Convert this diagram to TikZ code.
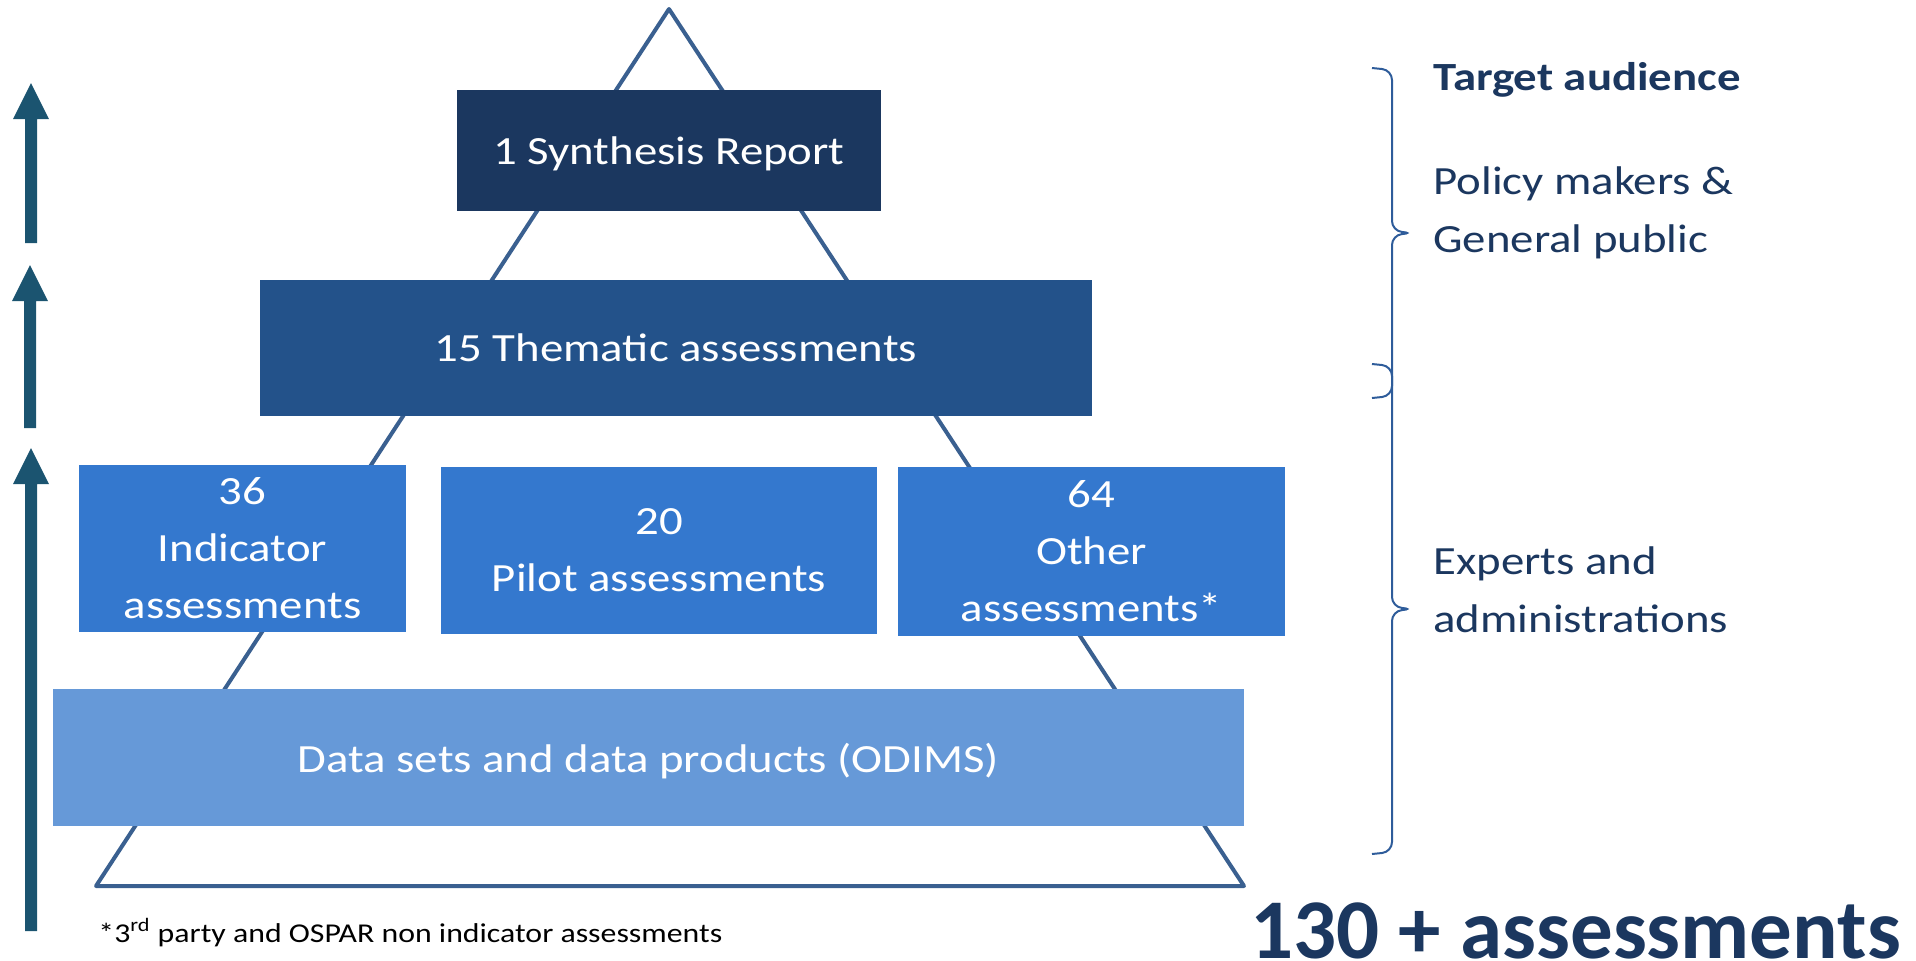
\documentclass[tikz,border=0pt]{standalone}
\usepackage{fontspec}
\setmainfont{Carlito}[FakeStretch=1.17]
\newfontfamily\plainfont{Carlito}
\definecolor{synth}{HTML}{1B375F}
\definecolor{thema}{HTML}{23528A}
\definecolor{assess}{HTML}{3478CE}
\definecolor{dataset}{HTML}{6699D8}
\definecolor{pyramid}{HTML}{3A6090}
\definecolor{arrowteal}{HTML}{1B5470}
\definecolor{bracecol}{HTML}{2E5C9A}
\def\levelarrow(#1:#2:#3){\fill[arrowteal] (#1-6,#3) -- (#1-6,#2+36) -- (#1-18,#2+36) -- (#1,#2) -- (#1+18,#2+36) -- (#1+6,#2+36) -- (#1+6,#3) -- cycle;}
\def\sidebrace(#1:#2:#3){\draw[brace] (1372,#1) -- (1392,#1+2) -- (1392,#2-2) -- (1413,#2) -- (1392,#2+2) -- (1392,#3-2) -- (1372,#3);}
\tikzset{
	level/.style={inner sep=0pt, text=white, align=center, font=\fontsize{20}{28.5}\selectfont},
	single/.style={level, text depth=0pt},
	side/.style={inner sep=0pt, anchor=west, text=synth, align=left, font=\fontsize{20}{29}\selectfont},
	brace/.style={draw=bracecol, line width=1pt, rounded corners=5pt},
}

\begin{document}
\begin{tikzpicture}[x=0.5pt, y=-0.5pt]
		%%%%% START %%%%%
		\useasboundingbox (0,0) rectangle (1916,960);
		
		\draw[pyramid, line width=2pt, line join=round] (669,9) -- (96,886) -- (1244,886) -- cycle;
		
		\node[single, fill=synth, minimum width=212pt, minimum height=60.5pt] (synth) at (669,150.5) {1 Synthesis Report};
		\node[single, fill=thema, minimum width=416pt, minimum height=68pt] (thematic) at (676,348) {15 Thematic assessments};
		
		\node[level, fill=assess, minimum width=163.5pt, minimum height=83.5pt] (indicator) at (242.5,548.5) {36\\Indicator\\assessments};
		\node[level, fill=assess, minimum width=218pt, minimum height=83.5pt] (pilot) at (659,550.5) {20\\Pilot assessments};
		\node[level, fill=assess, minimum width=193.5pt, minimum height=84.5pt] (other) at (1091.5,551.5) {64\\Other\\assessments*};
		
		\node[single, fill=dataset, minimum width=595.5pt, minimum height=68.5pt] (data) at (648.5,757.5) {Data sets and data products (ODIMS)};
		
		\levelarrow(31:83:243)
		\levelarrow(30:265:428)
		\levelarrow(31:448:931)
		
		\sidebrace(68:233:398)
		\sidebrace(364:609:854)
		
		\node[side] (target) at (1433,80) {\bfseries Target audience};
		\node[side] (policy) at (1433,213) {Policy makers \&\\General public};
		\node[side] (experts) at (1433,590) {Experts and\\administrations};
		
		\node[inner sep=0pt, anchor=base west, font=\fontsize{13.6}{17}\selectfont] (note) at (98,942) {*3\textsuperscript{rd} party and OSPAR non indicator assessments};
		\node[inner sep=0pt, anchor=base west, text=synth, font=\plainfont\fontsize{42.5}{50}\selectfont\bfseries] (total) at (1250,958) {130 + assessments};
		%%%%% END %%%%%
\end{tikzpicture}
\end{document}
